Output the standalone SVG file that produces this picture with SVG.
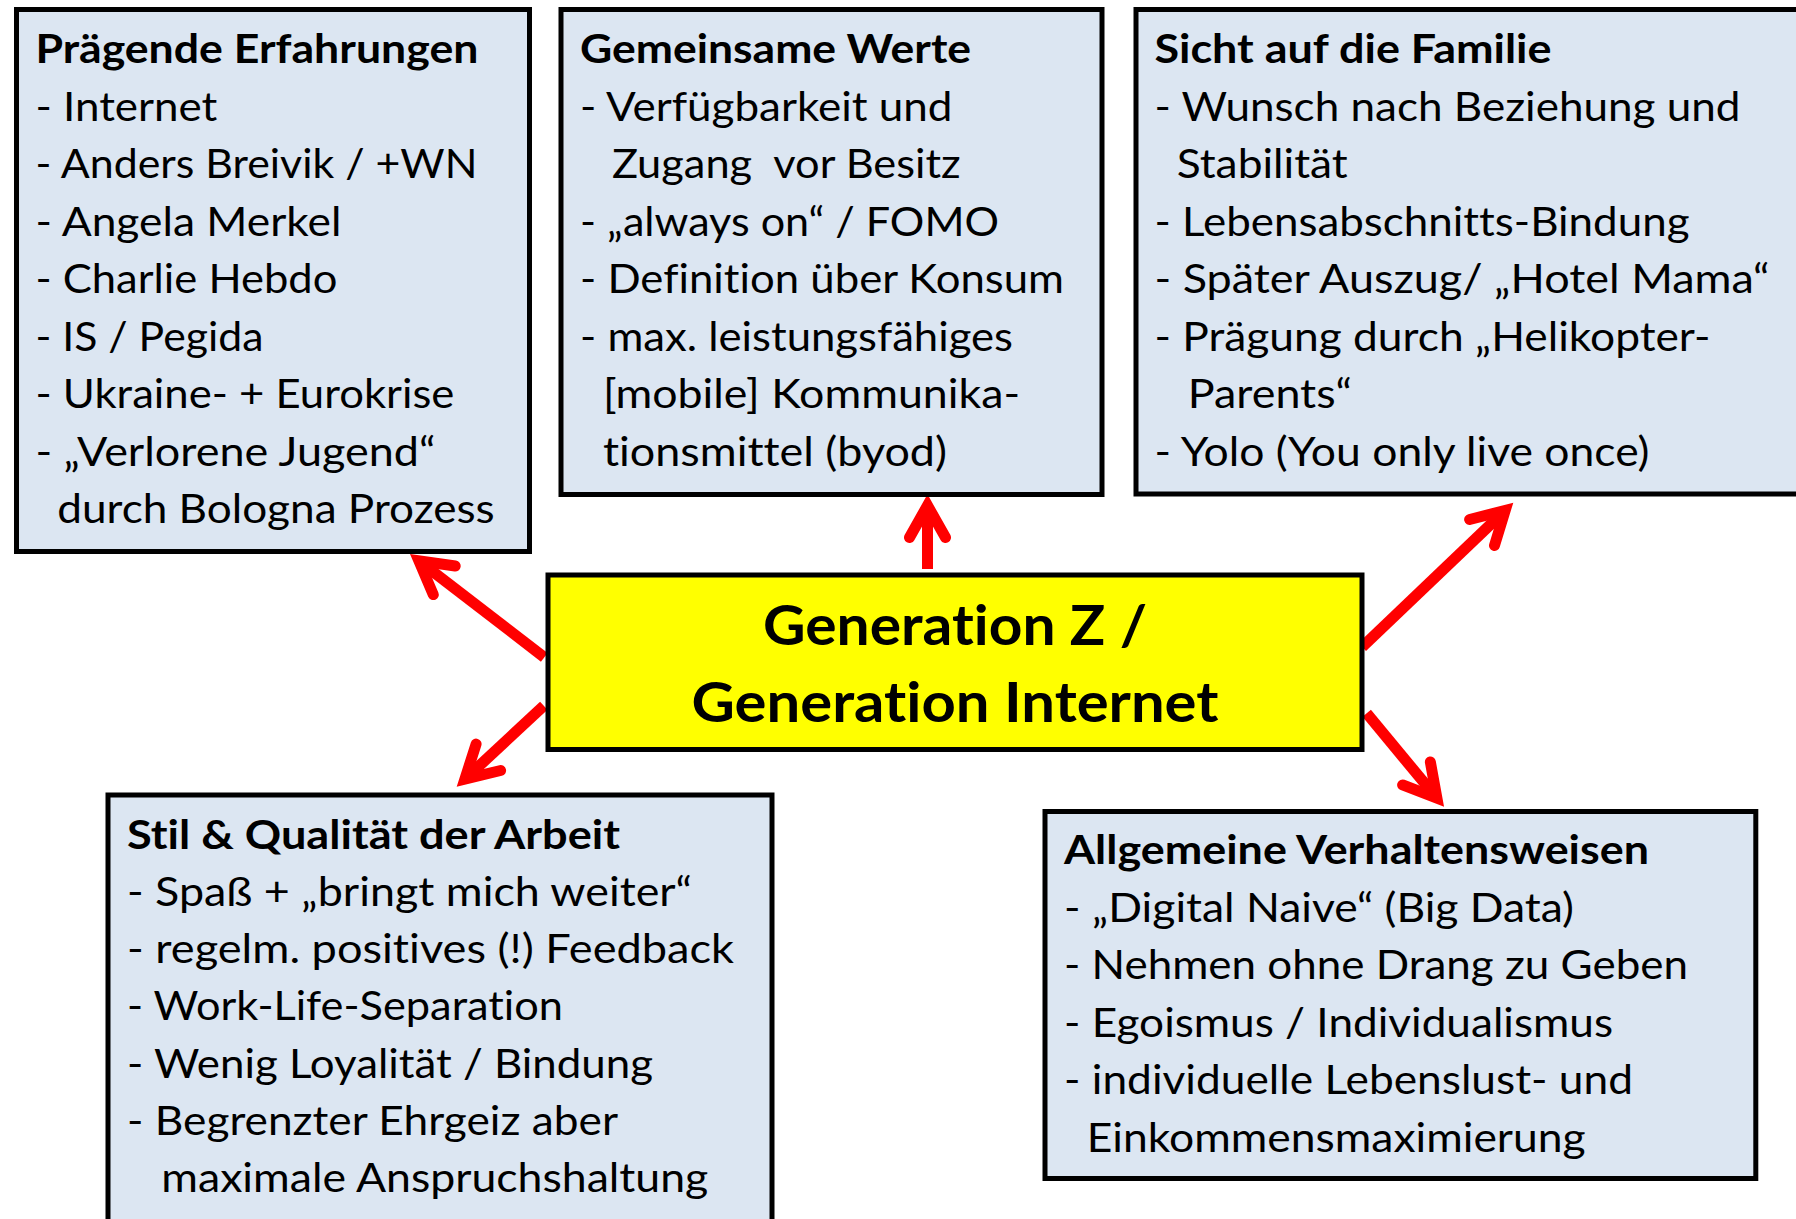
<svg xmlns="http://www.w3.org/2000/svg" width="1796" height="1219" viewBox="0 0 1796 1219">
  <defs>
    <style>
      .box { fill: #DCE6F2; stroke: #000000; stroke-width: 5; }
      .core { fill: #FFFF00; stroke: #000000; stroke-width: 5; }
      text { font-family: Lato, "Liberation Sans", sans-serif; font-size: 40px; fill: #000000; font-variant-ligatures: none; font-feature-settings: "liga" 0, "clig" 0; }
      .h { font-weight: 700; }
      .core-text { font-weight: 700; font-size: 56px; text-anchor: middle; }
      .link { stroke: #FF0000; stroke-width: 11; fill: none; stroke-linecap: butt; marker-end: url(#open-arrow); }
    </style>
    <!-- open chevron arrowhead, vertex at the line end -->
    <marker id="open-arrow" markerUnits="userSpaceOnUse" orient="auto" refX="0" refY="0" markerWidth="80" markerHeight="80" overflow="visible">
      <path d="M -32,-18 L 0,0 L -32,18" fill="none" stroke="#FF0000" stroke-width="11" stroke-linecap="round" stroke-linejoin="miter"/>
    </marker>
  </defs>

  <rect width="1796" height="1219" fill="#FFFFFF"/>

  <!-- connectors from the central node to the five topic boxes -->
  <g id="connectors">
    <line class="link" x1="927.5" y1="569" x2="927.5" y2="505.5"/>
    <line class="link" x1="544.3" y1="657.3" x2="418.9" y2="560.8"/>
    <line class="link" x1="543.8" y1="705.8" x2="464.9" y2="779.1"/>
    <line class="link" x1="1362.2" y1="647" x2="1505.2" y2="510.4"/>
    <line class="link" x1="1366.7" y1="713.3" x2="1436.9" y2="798.1"/>
  </g>

  <g id="node-praegende-erfahrungen">
    <rect class="box" x="16.5" y="9.5" width="513" height="542"/>
    <text class="h" x="35.4" y="63" textLength="443" lengthAdjust="spacingAndGlyphs">Prägende Erfahrungen</text>
    <text x="35.4" y="120.5" textLength="182" lengthAdjust="spacingAndGlyphs">- Internet</text>
    <text x="35.4" y="178" textLength="442" lengthAdjust="spacingAndGlyphs">- Anders Breivik / +WN</text>
    <text x="35.4" y="235.5" textLength="306" lengthAdjust="spacingAndGlyphs">- Angela Merkel</text>
    <text x="35.4" y="293" textLength="302" lengthAdjust="spacingAndGlyphs">- Charlie Hebdo</text>
    <text x="35.4" y="350.5" textLength="228" lengthAdjust="spacingAndGlyphs">- IS / Pegida</text>
    <text x="35.4" y="408" textLength="419" lengthAdjust="spacingAndGlyphs">- Ukraine- + Eurokrise</text>
    <text x="35.4" y="465.5" textLength="400" lengthAdjust="spacingAndGlyphs">- „Verlorene Jugend“</text>
    <text x="57.2" y="523" textLength="437.5" lengthAdjust="spacingAndGlyphs">durch Bologna Prozess</text>
  </g>

  <g id="node-gemeinsame-werte">
    <rect class="box" x="561" y="9.5" width="541" height="485"/>
    <text class="h" x="580" y="63" textLength="391" lengthAdjust="spacingAndGlyphs">Gemeinsame Werte</text>
    <text x="580" y="120.5" textLength="372.5" lengthAdjust="spacingAndGlyphs">- Verfügbarkeit und</text>
    <text x="612" y="178" textLength="348.6" lengthAdjust="spacingAndGlyphs" xml:space="preserve">Zugang  vor Besitz</text>
    <text x="580" y="235.5" textLength="419" lengthAdjust="spacingAndGlyphs">- „always on“ / FOMO</text>
    <text x="580" y="293" textLength="484" lengthAdjust="spacingAndGlyphs">- Definition über Konsum</text>
    <text x="580" y="350.5" textLength="433" lengthAdjust="spacingAndGlyphs">- max. leistungsfähiges</text>
    <text x="603" y="408" textLength="417" lengthAdjust="spacingAndGlyphs">[mobile] Kommunika-</text>
    <text x="603" y="465.5" textLength="344" lengthAdjust="spacingAndGlyphs">tionsmittel (byod)</text>
  </g>

  <g id="node-sicht-auf-die-familie">
    <rect class="box" x="1136" y="9.5" width="700" height="484.5"/>
    <text class="h" x="1154.5" y="63" textLength="397" lengthAdjust="spacingAndGlyphs">Sicht auf die Familie</text>
    <text x="1154.5" y="120.5" textLength="586" lengthAdjust="spacingAndGlyphs">- Wunsch nach Beziehung und</text>
    <text x="1176.7" y="178" textLength="171" lengthAdjust="spacingAndGlyphs">Stabilität</text>
    <text x="1154.5" y="235.5" textLength="535" lengthAdjust="spacingAndGlyphs">- Lebensabschnitts-Bindung</text>
    <text x="1154.5" y="293" textLength="615" lengthAdjust="spacingAndGlyphs">- Später Auszug/ „Hotel Mama“</text>
    <text x="1154.5" y="350.5" textLength="556" lengthAdjust="spacingAndGlyphs">- Prägung durch „Helikopter-</text>
    <text x="1187.8" y="408" textLength="164" lengthAdjust="spacingAndGlyphs">Parents“</text>
    <text x="1154.5" y="465.5" textLength="495" lengthAdjust="spacingAndGlyphs">- Yolo (You only live once)</text>
  </g>

  <g id="node-generation-z">
    <rect class="core" x="548" y="575" width="814" height="174.5"/>
    <text class="core-text" x="955" y="645" textLength="384" lengthAdjust="spacingAndGlyphs">Generation Z /</text>
    <text class="core-text" x="955" y="721.7" textLength="527" lengthAdjust="spacingAndGlyphs">Generation Internet</text>
  </g>

  <g id="node-stil-qualitaet-arbeit">
    <rect class="box" x="108" y="795" width="664" height="500"/>
    <text class="h" x="127" y="848.5" textLength="493" lengthAdjust="spacingAndGlyphs">Stil &amp; Qualität der Arbeit</text>
    <text x="127" y="906" textLength="565" lengthAdjust="spacingAndGlyphs">- Spaß + „bringt mich weiter“</text>
    <text x="127" y="963" textLength="607" lengthAdjust="spacingAndGlyphs">- regelm. positives (!) Feedback</text>
    <text x="127" y="1020" textLength="436" lengthAdjust="spacingAndGlyphs">- Work-Life-Separation</text>
    <text x="127" y="1077.5" textLength="526" lengthAdjust="spacingAndGlyphs">- Wenig Loyalität / Bindung</text>
    <text x="127" y="1135" textLength="491" lengthAdjust="spacingAndGlyphs">- Begrenzter Ehrgeiz aber</text>
    <text x="161.3" y="1192" textLength="547" lengthAdjust="spacingAndGlyphs">maximale Anspruchshaltung</text>
  </g>

  <g id="node-allgemeine-verhaltensweisen">
    <rect class="box" x="1045" y="811.5" width="710.8" height="367"/>
    <text class="h" x="1064" y="864" textLength="585" lengthAdjust="spacingAndGlyphs">Allgemeine Verhaltensweisen</text>
    <text x="1064" y="921.5" textLength="510" lengthAdjust="spacingAndGlyphs">- „Digital Naive“ (Big Data)</text>
    <text x="1064" y="979" textLength="624" lengthAdjust="spacingAndGlyphs">- Nehmen ohne Drang zu Geben</text>
    <text x="1064" y="1036.5" textLength="549" lengthAdjust="spacingAndGlyphs">- Egoismus / Individualismus</text>
    <text x="1064" y="1094" textLength="569" lengthAdjust="spacingAndGlyphs">- individuelle Lebenslust- und</text>
    <text x="1086.7" y="1151.5" textLength="499" lengthAdjust="spacingAndGlyphs">Einkommensmaximierung</text>
  </g>
</svg>
